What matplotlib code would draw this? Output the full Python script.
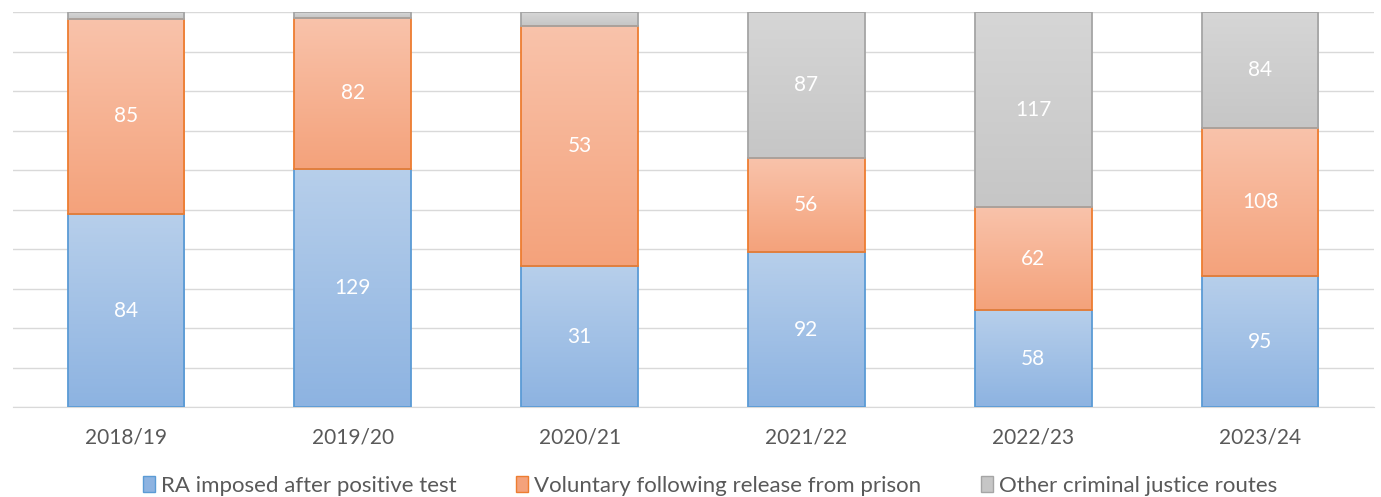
import matplotlib
matplotlib.use("Agg")
import matplotlib.pyplot as plt
import numpy as np
from matplotlib.colors import LinearSegmentedColormap
from matplotlib.patches import Patch

years = ["2018/19", "2019/20", "2020/21", "2021/22", "2022/23", "2023/24"]
ra_imposed = [84, 129, 31, 92, 58, 95]
voluntary = [85, 82, 53, 56, 62, 108]
other_routes = [3, 3, 3, 87, 117, 84]

series = [
    ("RA imposed after positive test", ra_imposed, ("#b7cfeb", "#8db3e1"), "#5b9bd5", True),
    ("Voluntary following release from prison", voluntary, ("#f9c3ab", "#f4a27b"), "#ed7d31", True),
    ("Other criminal justice routes", other_routes, ("#d6d6d6", "#c6c6c6"), "#a5a5a5", False),
]

plt.rcParams['font.family'] = ['Lato', 'DejaVu Sans']
fig = plt.figure(figsize=(13.81, 4.97), dpi=100)
ax = fig.add_axes([12.5 / 1381, 90 / 497, 1361 / 1381, 395 / 497])

totals = np.array(ra_imposed) + np.array(voluntary) + np.array(other_routes)
x = np.arange(len(years))
width = 0.515
bottom = np.zeros(len(years))
ax.set_xlim(-0.5, len(years) - 0.5)
ax.set_ylim(0, 100)

for name, vals, (ctop, cbot), edge, show in series:
    pct = np.array(vals) / totals * 100
    bars = ax.bar(x, pct, width, bottom=bottom, color="none", edgecolor=edge,
                  linewidth=1.3, zorder=3)
    cmap = LinearSegmentedColormap.from_list("g", [cbot, ctop])
    for b, p, bt, v in zip(bars, pct, bottom, vals):
        grad = np.linspace(0, 1, 256).reshape(-1, 1)
        im = ax.imshow(grad, cmap=cmap, aspect="auto", origin="lower",
                       extent=[b.get_x(), b.get_x() + b.get_width(), bt, bt + p],
                       zorder=2)
        im.set_clip_path(b)
        if show or v > 10:
            ax.text(b.get_x() + b.get_width() / 2, bt + p / 2, str(v),
                    ha="center", va="center", color="white", fontsize=15, zorder=4)
    bottom = bottom + pct

ax.set_xlim(-0.5, len(years) - 0.5)
ax.set_ylim(0, 100)
ax.set_yticks(np.arange(0, 101, 10))
ax.yaxis.grid(True, color="#d9d9d9", linewidth=1, zorder=0)
ax.set_axisbelow(True)
ax.tick_params(axis="y", left=False, labelleft=False)
ax.tick_params(axis="x", bottom=False, labelsize=15, labelcolor="#595959", pad=11)
ax.set_xticks(x)
ax.set_xticklabels(years)
for s in ["top", "right", "left"]:
    ax.spines[s].set_visible(False)
ax.spines["bottom"].set_color("#d9d9d9")

handles = [Patch(facecolor=c[1], edgecolor=e, label=n) for n, _, c, e, _ in series]
leg = fig.legend(handles=handles, loc="center", bbox_to_anchor=(710 / 1381, 11 / 497), ncol=3,
                 frameon=False, fontsize=16, handlelength=0.55, handleheight=0.75,
                 handletextpad=0.25, columnspacing=2.7)
for t in leg.get_texts():
    t.set_color("#595959")

fig.savefig("out.png", dpi=100)
